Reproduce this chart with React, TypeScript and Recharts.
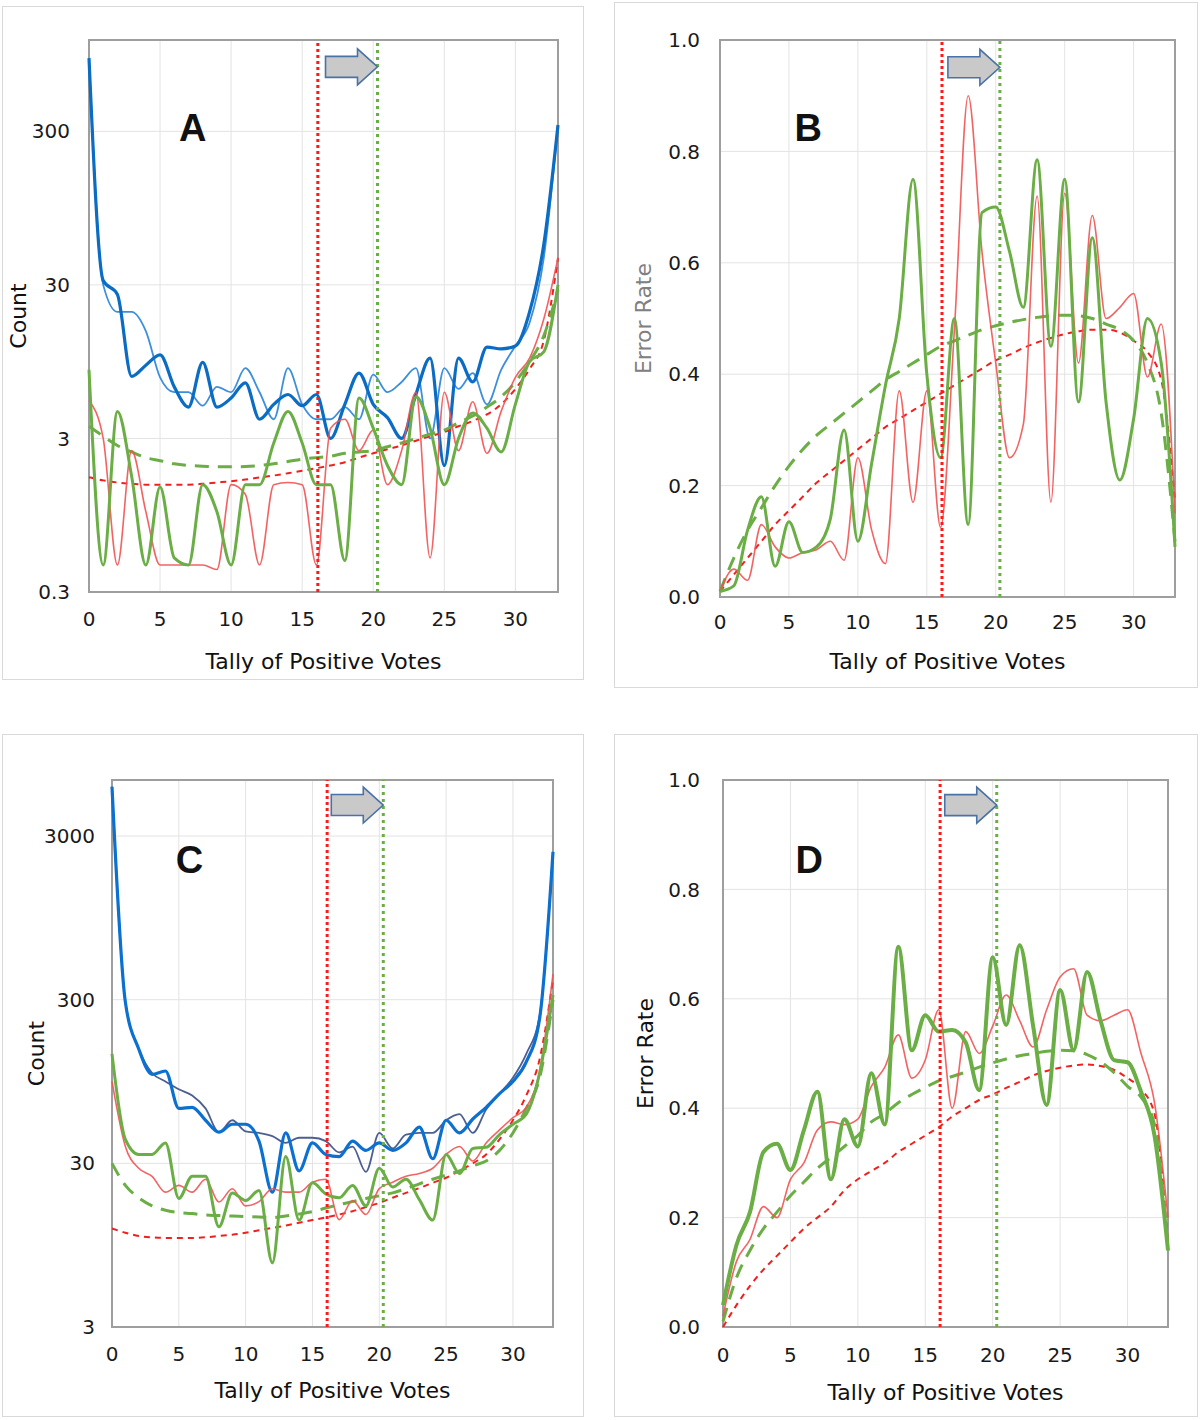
import React from 'react';
import {
  LineChart,
  Line,
  XAxis,
  YAxis,
  CartesianGrid,
  ReferenceLine,
  ReferenceDot,
  ReferenceArea,
} from 'recharts';

// ---------- data ----------
const tally = [0, 1, 2, 3, 4, 5, 6, 7, 8, 9, 10, 11, 12, 13, 14, 15, 16, 17, 18, 19, 20, 21, 22, 23, 24, 25, 26, 27, 28, 29, 30, 31, 32, 33];
const xTicks = [0, 5, 10, 15, 20, 25, 30];
const countTicksA = [0.3, 3, 30, 300];
const countTicksC = [3, 30, 300, 3000];
const rateTicks = [0, 0.2, 0.4, 0.6, 0.8, 1.0];
const thresholdRed = 16.1;
const thresholdGreen = 20.3;
const panelLetters = ['A', 'B', 'C', 'D'];
const xTitle = 'Tally of Positive Votes';
const countTitle = 'Count';
const rateTitle = 'Error Rate';

// Panel A (counts, log scale)
const aBlueThick = [900, 32, 26, 7.6, 9, 10.5, 6.5, 4.8, 9.4, 4.8, 5.5, 6.9, 4.0, 5.0, 5.8, 4.9, 5.8, 3.0, 5.0, 8.0, 5.0, 4.1, 3.0, 5.8, 10, 2.0, 10, 7.0, 11.8, 11.5, 12, 20, 55, 330];
const aBlueThin = [900, 30, 20, 20, 15, 7.5, 6, 6, 4.9, 6.5, 6, 8.6, 6, 4, 8.6, 5, 4, 4, 4.8, 4, 7.8, 6, 7, 8.6, 3, 8.6, 6.3, 8, 5, 8.4, 12, 17, 45, 330];
const aRed = [5.3, 3, 0.45, 2.5, 1.0, 0.45, 0.45, 0.45, 0.45, 0.42, 1.5, 1.3, 0.45, 1.5, 1.55, 1.5, 0.45, 3.5, 4, 2.5, 3.4, 1.5, 2.5, 6, 0.5, 6, 2.5, 5.2, 2.4, 4.5, 7.5, 10, 18, 45];
const aGreen = [8.4, 0.45, 4.5, 1.7, 0.45, 1.45, 0.5, 0.45, 1.5, 1.0, 0.45, 1.5, 1.5, 2.8, 4.5, 2.8, 1.5, 1.5, 0.48, 5.5, 3.5, 2.0, 1.5, 5.6, 3.5, 1.5, 3, 4.4, 3.5, 2.45, 5, 9.5, 11, 30];
const aGreenTrend = [3.6, 3.1, 2.7, 2.45, 2.25, 2.15, 2.05, 2.0, 1.98, 1.96, 1.96, 1.97, 2.0, 2.05, 2.12, 2.2, 2.25, 2.3, 2.4, 2.45, 2.5, 2.65, 2.8, 3.0, 3.2, 3.4, 3.8, 4.2, 4.8, 5.6, 7, 9.5, 14, 28];
const aRedTrend = [1.68, 1.6, 1.55, 1.52, 1.5, 1.5, 1.5, 1.5, 1.52, 1.55, 1.58, 1.62, 1.67, 1.72, 1.78, 1.85, 1.92, 2.0, 2.1, 2.25, 2.4, 2.55, 2.7, 2.9, 3.1, 3.3, 3.6, 3.9, 4.3, 5.0, 6.3, 8.5, 13, 45];

// Panel B (error rate)
const bGreen = [0.01, 0.02, 0.12, 0.18, 0.055, 0.135, 0.08, 0.09, 0.14, 0.30, 0.10, 0.24, 0.38, 0.5, 0.75, 0.4, 0.25, 0.5, 0.13, 0.69, 0.70, 0.62, 0.52, 0.785, 0.45, 0.75, 0.35, 0.645, 0.35, 0.21, 0.32, 0.50, 0.42, 0.09];
const bRed = [0.01, 0.05, 0.03, 0.13, 0.09, 0.07, 0.08, 0.085, 0.10, 0.066, 0.25, 0.12, 0.06, 0.37, 0.17, 0.37, 0.125, 0.48, 0.90, 0.62, 0.42, 0.25, 0.31, 0.72, 0.17, 0.725, 0.42, 0.685, 0.50, 0.52, 0.545, 0.395, 0.49, 0.15];
const bGreenTrend = [0.01, 0.07, 0.12, 0.16, 0.2, 0.235, 0.265, 0.29, 0.31, 0.33, 0.35, 0.37, 0.39, 0.405, 0.42, 0.435, 0.45, 0.46, 0.47, 0.48, 0.487, 0.493, 0.498, 0.502, 0.505, 0.506, 0.505, 0.5, 0.49, 0.48, 0.46, 0.42, 0.33, 0.1];
const bRedTrend = [0.01, 0.04, 0.07, 0.10, 0.13, 0.155, 0.18, 0.205, 0.225, 0.245, 0.265, 0.285, 0.305, 0.32, 0.335, 0.35, 0.365, 0.38, 0.395, 0.41, 0.425, 0.435, 0.447, 0.457, 0.465, 0.472, 0.477, 0.48, 0.48, 0.475, 0.46, 0.44, 0.39, 0.17];

// Panel C (counts, log scale)
const cBlueThick = [6000, 290, 150, 105, 110, 65, 66, 55, 46.5, 52, 52, 41, 20, 46, 27, 40, 34, 33, 41, 36, 40, 36, 40, 50, 32, 55, 46, 56, 66, 80, 95, 125, 230, 2400];
const cBlueThin = [6000, 290, 150, 107, 95, 85, 78, 65, 46.5, 55, 47, 46, 44, 40, 43, 43, 41, 35, 38, 26.6, 46, 37, 45, 46, 46, 55, 60, 46, 64, 80, 100, 140, 240, 2400];
const cRed = [95, 38, 28, 25, 20, 22, 20, 24, 17.4, 21, 16.5, 17.5, 21, 20, 20, 23, 24, 13.6, 17.8, 14.6, 21, 23, 25, 26, 28, 34, 38, 31, 40, 48, 57, 66, 110, 430];
const cGreen = [140, 42, 34, 34, 40, 18.3, 25, 25, 12.3, 19.8, 17.8, 20.5, 7.4, 33, 13.5, 22.8, 19.5, 18.5, 22, 16.5, 28, 21.5, 24, 18, 13.5, 34, 26, 37, 37.6, 45, 52, 60, 107, 320];
const cGreenTrend = [30, 22, 18.5, 16.5, 15.5, 15, 14.8, 14.5, 14.4, 14.3, 14.2, 14.1, 14, 14.3, 14.7, 15.2, 16, 16.8, 17.5, 18.3, 19, 19.8, 21, 22.5, 24, 25.5, 27, 29, 31, 36, 46, 65, 100, 300];
const cRedTrend = [12, 11.3, 10.8, 10.6, 10.5, 10.5, 10.5, 10.6, 10.8, 11, 11.3, 11.7, 12.1, 12.5, 13, 13.5, 14, 14.6, 15.3, 16.2, 17.2, 18.5, 19.8, 21.2, 22.8, 24.5, 27, 30, 34, 42, 55, 78, 130, 400];

// Panel D (error rate)
const dGreen = [0.04, 0.15, 0.21, 0.32, 0.335, 0.287, 0.36, 0.43, 0.27, 0.38, 0.33, 0.464, 0.37, 0.695, 0.506, 0.57, 0.54, 0.543, 0.52, 0.433, 0.676, 0.552, 0.698, 0.55, 0.406, 0.616, 0.506, 0.649, 0.56, 0.488, 0.484, 0.43, 0.35, 0.14];
const dRed = [0.02, 0.12, 0.16, 0.22, 0.20, 0.27, 0.30, 0.36, 0.375, 0.37, 0.38, 0.44, 0.475, 0.534, 0.455, 0.488, 0.58, 0.40, 0.54, 0.5, 0.55, 0.607, 0.56, 0.512, 0.58, 0.64, 0.655, 0.57, 0.56, 0.57, 0.58, 0.5, 0.41, 0.2];
const dGreenTrend = [0.01, 0.09, 0.14, 0.18, 0.21, 0.24, 0.265, 0.29, 0.31, 0.33, 0.35, 0.375, 0.39, 0.41, 0.425, 0.438, 0.45, 0.458, 0.466, 0.475, 0.483, 0.49, 0.496, 0.5, 0.504, 0.506, 0.505, 0.498, 0.485, 0.465, 0.44, 0.42, 0.37, 0.14];
const dRedTrend = [0, 0.04, 0.075, 0.105, 0.13, 0.155, 0.18, 0.2, 0.22, 0.25, 0.27, 0.285, 0.3, 0.32, 0.335, 0.35, 0.365, 0.385, 0.4, 0.415, 0.425, 0.437, 0.448, 0.46, 0.468, 0.474, 0.478, 0.48, 0.477, 0.47, 0.455, 0.435, 0.39, 0.15];

// annotation anchors (data coordinates)
const letterAnchors = [
  { x: 7.3, y: 316 },
  { x: 6.4, y: 0.842 },
  { x: 5.8, y: 2135 },
  { x: 6.4, y: 0.854 },
];
const arrowTipY = [789, 0.951, 4638, 0.954];

// ---------- helpers ----------
const buildRows = (cols: Record<string, number[]>) =>
  tally.map((x, i) => {
    const r: Record<string, number> = { x };
    Object.keys(cols).forEach((k) => {
      r[k] = cols[k][i];
    });
    return r;
  });

const TICK_FONT = 'DejaVu Sans';
const GREEN = '#6AAE45';
const RED = '#F25252';
const RED_TREND = '#F21F1F';

type Series = { key: string; color: string; width: number; dash?: string; opacity?: number };

const ArrowShape = (props: any) => {
  const { cx, cy } = props;
  if (cx == null || cy == null) return <g />;
  const pts = [
    [0, 0],
    [-20, -18],
    [-20, -10.5],
    [-52, -10.5],
    [-52, 10.5],
    [-20, 10.5],
    [-20, 18],
  ]
    .map(([dx, dy]) => `${cx + dx},${cy + dy}`)
    .join(' ');
  return <polygon points={pts} fill="#C9C9C9" stroke="#4A72A6" strokeWidth={1.6} />;
};

const makeLetter = (letter: string) => (props: any) => {
  const { cx, cy } = props;
  if (cx == null || cy == null) return <g />;
  return (
    <text
      x={cx}
      y={cy}
      textAnchor="middle"
      dominantBaseline="central"
      fontFamily="Liberation Sans, Arial, sans-serif"
      fontWeight="bold"
      fontSize={38}
      fill="#111"
    >
      {letter}
    </text>
  );
};

type PanelCfg = {
  left: number;
  top: number;
  margin: { top: number; right: number; bottom: number; left: number };
  yAxisWidth: number;
  xAxisHeight: number;
  xTickMargin: number;
  yTickMargin: number;
  scale: 'log' | 'linear';
  domain: [number, number];
  ticks: number[];
  fmt: (v: number) => string;
  yTitle: string;
  yTitleColor: string;
  yTitleOffset: number;
  rows: Record<string, number>[];
  series: Series[];
  idx: number;
};

const countFmt = (v: number) => String(v);
const rateFmt = (v: number) => v.toFixed(1);

const blueThickStyle = (key: string, color: string): Series => ({ key, color, width: 3.2 });

const panels: PanelCfg[] = [
  {
    left: 0,
    top: 0,
    margin: { top: 40, right: 42, bottom: 31, left: 0 },
    yAxisWidth: 89,
    xAxisHeight: 77,
    xTickMargin: 20,
    yTickMargin: 19,
    scale: 'log',
    domain: [0.3, 1180],
    ticks: countTicksA,
    fmt: countFmt,
    yTitle: countTitle,
    yTitleColor: '#111',
    yTitleOffset: 18,
    rows: buildRows({
      blueThin: aBlueThin,
      blueThick: aBlueThick,
      redTrend: aRedTrend,
      greenTrend: aGreenTrend,
      red: aRed,
      green: aGreen,
    }),
    series: [
      { key: 'blueThin', color: '#3D8FDC', width: 1.8 },
      blueThickStyle('blueThick', '#0A6CC2'),
      { key: 'redTrend', color: RED_TREND, width: 2, dash: '6 5' },
      { key: 'greenTrend', color: GREEN, width: 3, dash: '14 9' },
      { key: 'red', color: RED, width: 1.6, opacity: 0.9 },
      { key: 'green', color: GREEN, width: 3 },
    ],
    idx: 0,
  },
  {
    left: 600,
    top: 0,
    margin: { top: 40, right: 25, bottom: 31, left: 0 },
    yAxisWidth: 120,
    xAxisHeight: 72,
    xTickMargin: 18,
    yTickMargin: 20,
    scale: 'linear',
    domain: [0, 1],
    ticks: rateTicks,
    fmt: rateFmt,
    yTitle: rateTitle,
    yTitleColor: '#808080',
    yTitleOffset: 43,
    rows: buildRows({ redTrend: bRedTrend, greenTrend: bGreenTrend, red: bRed, green: bGreen }),
    series: [
      { key: 'redTrend', color: RED_TREND, width: 2, dash: '6 5' },
      { key: 'greenTrend', color: GREEN, width: 3, dash: '14 9' },
      { key: 'red', color: RED, width: 1.6, opacity: 0.9 },
      { key: 'green', color: GREEN, width: 3 },
    ],
    idx: 1,
  },
  {
    left: 0,
    top: 720,
    margin: { top: 60, right: 47, bottom: 22, left: 0 },
    yAxisWidth: 112,
    xAxisHeight: 71,
    xTickMargin: 20,
    yTickMargin: 17,
    scale: 'log',
    domain: [3, 6600],
    ticks: countTicksC,
    fmt: countFmt,
    yTitle: countTitle,
    yTitleColor: '#111',
    yTitleOffset: 36,
    rows: buildRows({
      blueThin: cBlueThin,
      blueThick: cBlueThick,
      redTrend: cRedTrend,
      greenTrend: cGreenTrend,
      red: cRed,
      green: cGreen,
    }),
    series: [
      { key: 'blueThin', color: '#4B5F91', width: 1.8 },
      blueThickStyle('blueThick', '#0B70D0'),
      { key: 'redTrend', color: RED_TREND, width: 2, dash: '6 5' },
      { key: 'greenTrend', color: GREEN, width: 3, dash: '14 9' },
      { key: 'red', color: RED, width: 1.6, opacity: 0.9 },
      { key: 'green', color: GREEN, width: 3 },
    ],
    idx: 2,
  },
  {
    left: 600,
    top: 720,
    margin: { top: 60, right: 32, bottom: 20, left: 0 },
    yAxisWidth: 123,
    xAxisHeight: 73,
    xTickMargin: 21,
    yTickMargin: 23,
    scale: 'linear',
    domain: [0, 1],
    ticks: rateTicks,
    fmt: rateFmt,
    yTitle: rateTitle,
    yTitleColor: '#111',
    yTitleOffset: 45,
    rows: buildRows({ redTrend: dRedTrend, greenTrend: dGreenTrend, red: dRed, green: dGreen }),
    series: [
      { key: 'redTrend', color: RED_TREND, width: 2, dash: '6 5' },
      { key: 'greenTrend', color: GREEN, width: 3, dash: '14 9' },
      { key: 'red', color: RED, width: 1.6, opacity: 0.9 },
      { key: 'green', color: GREEN, width: 4 },
    ],
    idx: 3,
  },
];

const frames = [
  { left: 2, top: 6, width: 582, height: 674 },
  { left: 614, top: 2, width: 584, height: 686 },
  { left: 2, top: 734, width: 582, height: 683 },
  { left: 614, top: 734, width: 584, height: 683 },
];

const tickStyle = { fontSize: 20, fill: '#1a1a1a', fontFamily: TICK_FONT };

function Panel({ cfg }: { cfg: PanelCfg }) {
  const letter = letterAnchors[cfg.idx];
  return (
    <div style={{ position: 'absolute', left: cfg.left, top: cfg.top }}>
      <LineChart width={600} height={700} data={cfg.rows} margin={cfg.margin}>
        <CartesianGrid stroke="#E3E3E3" strokeWidth={1} />
        <XAxis
          type="number"
          dataKey="x"
          domain={[0, 33]}
          ticks={xTicks}
          interval={0}
          axisLine={false}
          tickLine={false}
          tickSize={0}
          tickMargin={cfg.xTickMargin}
          height={cfg.xAxisHeight}
          tick={tickStyle}
          label={{
            value: xTitle,
            position: 'insideBottom',
            offset: 0,
            fill: '#111',
            fontSize: 22,
            fontFamily: TICK_FONT,
          }}
        />
        <YAxis
          type="number"
          scale={cfg.scale}
          domain={cfg.domain}
          allowDataOverflow
          ticks={cfg.ticks}
          interval={0}
          tickFormatter={cfg.fmt}
          width={cfg.yAxisWidth}
          axisLine={false}
          tickLine={false}
          tickSize={0}
          tickMargin={cfg.yTickMargin}
          tick={tickStyle}
          label={{
            value: cfg.yTitle,
            angle: -90,
            position: 'insideLeft',
            offset: cfg.yTitleOffset,
            textAnchor: 'middle',
            fill: cfg.yTitleColor,
            fontSize: 22,
            fontFamily: TICK_FONT,
          }}
        />
        <ReferenceArea
          x1={0}
          x2={33}
          y1={cfg.domain[0]}
          y2={cfg.domain[1]}
          fill="none"
          fillOpacity={0}
          stroke="#9E9E9E"
          strokeWidth={2}
          ifOverflow="visible"
        />
        {cfg.series.map((s) => (
          <Line
            key={s.key}
            type="monotone"
            dataKey={s.key}
            stroke={s.color}
            strokeWidth={s.width}
            strokeDasharray={s.dash}
            strokeOpacity={s.opacity ?? 1}
            dot={false}
            activeDot={false}
            isAnimationActive={false}
          />
        ))}
        <ReferenceLine x={thresholdRed} stroke="#FF1A1A" strokeWidth={3} strokeDasharray="3 3" ifOverflow="visible" />
        <ReferenceLine x={thresholdGreen} stroke="#6AAE45" strokeWidth={3} strokeDasharray="3 4" ifOverflow="visible" />
        <ReferenceDot x={thresholdGreen} y={arrowTipY[cfg.idx]} shape={ArrowShape} ifOverflow="visible" />
        <ReferenceDot x={letter.x} y={letter.y} shape={makeLetter(panelLetters[cfg.idx])} ifOverflow="visible" />
      </LineChart>
    </div>
  );
}

export default function App() {
  return (
    <div style={{ position: 'absolute', left: 0, top: 0, width: 1200, height: 1420, background: '#fff' }}>
      {frames.map((f, i) => (
        <div
          key={i}
          style={{
            position: 'absolute',
            left: f.left,
            top: f.top,
            width: f.width,
            height: f.height,
            border: '1.5px solid #D9D9D9',
            boxSizing: 'border-box',
          }}
        />
      ))}
      {panels.map((p) => (
        <Panel key={p.idx} cfg={p} />
      ))}
    </div>
  );
}
